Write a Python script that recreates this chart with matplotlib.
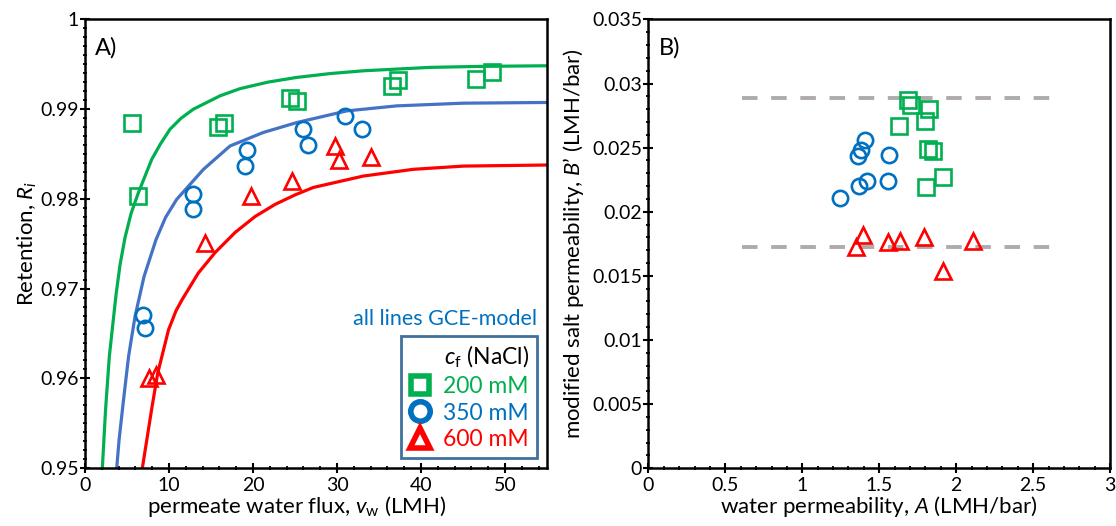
import matplotlib.pyplot as plt
from matplotlib.lines import Line2D
from matplotlib.ticker import MultipleLocator, FuncFormatter

# --- panel A: retention vs. permeate flux ---
flux_200 = [5.6, 6.3, 15.8, 16.6, 24.4, 25.2, 36.5, 37.2, 46.5, 48.4]
ret_200 = [0.9885, 0.9803, 0.98805, 0.9885, 0.9913, 0.9909, 0.9926, 0.9932, 0.9934, 0.9941]
flux_350 = [6.9, 7.1, 12.9, 12.9, 19.3, 19.05, 26.0, 26.6, 30.9, 33.0]
ret_350 = [0.9671, 0.9656, 0.9806, 0.9789, 0.9854, 0.9837, 0.9878, 0.9860, 0.9892, 0.9878]
flux_600 = [7.6, 8.5, 14.3, 19.7, 24.6, 29.8, 30.2, 34.0]
ret_600 = [0.9600, 0.9604, 0.9751, 0.9803, 0.9820, 0.9859, 0.9843, 0.9847]

# GCE-model lines, points
model_flux_200 = [2.06, 2.44, 2.89, 3.69, 4.17, 4.76, 5.48, 6.35, 7.94, 8.99, 10.12, 11.43, 12.89, 16.07,
                  18.45, 21.79, 25.2, 29.17, 33.13, 41.07, 47.02, 55.0]
model_ret_200 = [0.950, 0.95648, 0.96244, 0.96933, 0.97268, 0.9757, 0.97838, 0.98069, 0.98441, 0.98615,
                 0.98777, 0.98899, 0.99000, 0.99149, 0.99229, 0.99302, 0.99354, 0.99397, 0.99428,
                 0.99466, 0.99477, 0.99484]
model_flux_350 = [3.77, 4.05, 4.58, 5.18, 5.95, 7.02, 8.45, 9.58, 10.9, 14.1, 17.26, 21.2, 25.2, 31.15,
                  37.1, 45.0, 55.0]
model_ret_350 = [0.950, 0.95313, 0.9576, 0.96244, 0.9669, 0.97134, 0.97547, 0.97793, 0.97994, 0.9833,
                 0.9859, 0.9874, 0.98851, 0.98981, 0.99037, 0.99067, 0.99075]
model_flux_600 = [6.82, 7.35, 7.98, 8.65, 9.94, 10.83, 11.55, 13.49, 15.48, 17.86, 20.24, 22.62, 25.0,
                  27.18, 33.13, 39.08, 45.04, 55.0]
model_ret_600 = [0.950, 0.95313, 0.95687, 0.96058, 0.96542, 0.96754, 0.96877, 0.97175, 0.97402, 0.97626,
                 0.97804, 0.97939, 0.98045, 0.98128, 0.98255, 0.98330, 0.98366, 0.98378]

# --- panel B: B' vs. A ---
A_200 = [1.688, 1.709, 1.822, 1.796, 1.627, 1.818, 1.850, 1.807, 1.915]
B_200 = [0.02875, 0.0283, 0.02804, 0.02705, 0.02668, 0.02491, 0.02473, 0.02191, 0.02269]
A_350 = [1.405, 1.384, 1.360, 1.562, 1.421, 1.366, 1.555, 1.247]
B_350 = [0.02556, 0.02478, 0.02434, 0.02444, 0.02238, 0.02204, 0.02238, 0.02108]
A_600 = [1.395, 1.351, 1.555, 1.638, 1.789, 2.111, 1.915]
B_600 = [0.01821, 0.01727, 0.01761, 0.01774, 0.0180, 0.01774, 0.01539]

B_bounds = [0.02889, 0.01723]
A_bound_range = [0.61, 2.61]

conc_labels = ['200 mM', '350 mM', '600 mM']

GREEN = '#00B050'
BLUE = '#0070C0'
BLUE_LINE = '#4472C4'
RED = '#FF0000'
GREY = '#AFABAB'
FRAME = '#41719C'

plt.rcParams['font.family'] = ['Lato', 'DejaVu Sans']
plt.rcParams['mathtext.fontset'] = 'custom'
plt.rcParams['mathtext.rm'] = 'Lato'
plt.rcParams['mathtext.it'] = 'Lato:italic'
plt.rcParams['font.size'] = 13

fig = plt.figure(figsize=(11.16, 5.26), dpi=100)
ax1 = fig.add_axes([0.0762, 0.110, 0.4140, 0.853])
ax2 = fig.add_axes([0.5810, 0.110, 0.4137, 0.853])

mk = dict(ls='none', mfc='none', ms=11, mew=1.9)
line_kw = dict(lw=2.3, solid_joinstyle='round', solid_capstyle='round')
ax1.plot(model_flux_200, model_ret_200, color=GREEN, **line_kw)
ax1.plot(model_flux_350, model_ret_350, color=BLUE_LINE, **line_kw)
ax1.plot(model_flux_600, model_ret_600, color=RED, **line_kw)
ax1.plot(flux_200, ret_200, marker='s', mec=GREEN, **mk)
ax1.plot(flux_350, ret_350, marker='o', mec=BLUE, **mk)
ax1.plot(flux_600, ret_600, marker='^', mec=RED, **mk)

ax1.set_xlim(0, 55)
ax1.set_ylim(0.95, 1.0)
ax1.xaxis.set_major_locator(MultipleLocator(10))
ax1.xaxis.set_minor_locator(MultipleLocator(2))
ax1.yaxis.set_major_locator(MultipleLocator(0.01))
ax1.yaxis.set_minor_locator(MultipleLocator(0.001))
ax1.set_xlabel('permeate water flux, $v_\\mathrm{w}$ (LMH)', fontsize=16, labelpad=0)
ax1.xaxis.label.set_x(0.459)
ax1.set_ylabel('Retention, $R_i$', fontsize=16, labelpad=1)
ax1.text(0.022, 0.96, 'A)', transform=ax1.transAxes, fontsize=17, va='top')
ax1.text(0.978, 0.333, 'all lines GCE-model', transform=ax1.transAxes, fontsize=15.5,
         color=BLUE, ha='right', va='center')

handles = [
    Line2D([], [], ls='none', marker='s', mfc='none', mec=GREEN, ms=13, mew=4),
    Line2D([], [], ls='none', marker='o', mfc='none', mec=BLUE, ms=14, mew=4),
    Line2D([], [], ls='none', marker='^', mfc='none', mec=RED, ms=15, mew=4),
]
leg = ax1.legend(handles, conc_labels, title='$c_\\mathrm{f}$ (NaCl)', loc='lower right',
                 bbox_to_anchor=(0.978, 0.022), borderaxespad=0, fontsize=16.5, title_fontsize=16.5,
                 alignment='right', handlelength=1.0, handletextpad=0.5,
                 labelspacing=0.25, borderpad=0.35, fancybox=False, framealpha=1)
leg.get_frame().set_edgecolor(FRAME)
leg.get_frame().set_linewidth(2)
for txt, c in zip(leg.get_texts(), [GREEN, BLUE, RED]):
    txt.set_color(c)

ax2.hlines(B_bounds, A_bound_range[0], A_bound_range[1], colors=GREY, lw=2.8,
           linestyles=(0, (4, 3.5)))
ax2.plot(A_200, B_200, marker='s', mec=GREEN, **mk)
ax2.plot(A_350, B_350, marker='o', mec=BLUE, **mk)
ax2.plot(A_600, B_600, marker='^', mec=RED, **mk)

ax2.set_xlim(0, 3)
ax2.set_ylim(0, 0.035)
ax2.xaxis.set_major_locator(MultipleLocator(0.5))
ax2.xaxis.set_minor_locator(MultipleLocator(0.1))
ax2.yaxis.set_major_locator(MultipleLocator(0.005))
ax2.yaxis.set_minor_locator(MultipleLocator(0.001))
ax2.set_xlabel('water permeability, $A$ (LMH/bar)', fontsize=16, labelpad=0)
ax2.set_ylabel('modified salt permeability, $B$\u2019 (LMH/bar)', fontsize=16, labelpad=4)
ax2.text(0.022, 0.96, 'B)', transform=ax2.transAxes, fontsize=17, va='top')

fmt = FuncFormatter(lambda v, _: f'{v:.4g}')
for ax in (ax1, ax2):
    ax.xaxis.set_major_formatter(fmt)
    ax.yaxis.set_major_formatter(fmt)
    for sp in ax.spines.values():
        sp.set_linewidth(1.8)
    ax.tick_params(which='major', direction='inout', length=7, width=1.5, labelsize=14, pad=1)
    ax.tick_params(axis='x', which='major', pad=3)
    ax.tick_params(which='minor', direction='inout', length=3.5, width=1.3)

fig.savefig('out.png', dpi=100)
